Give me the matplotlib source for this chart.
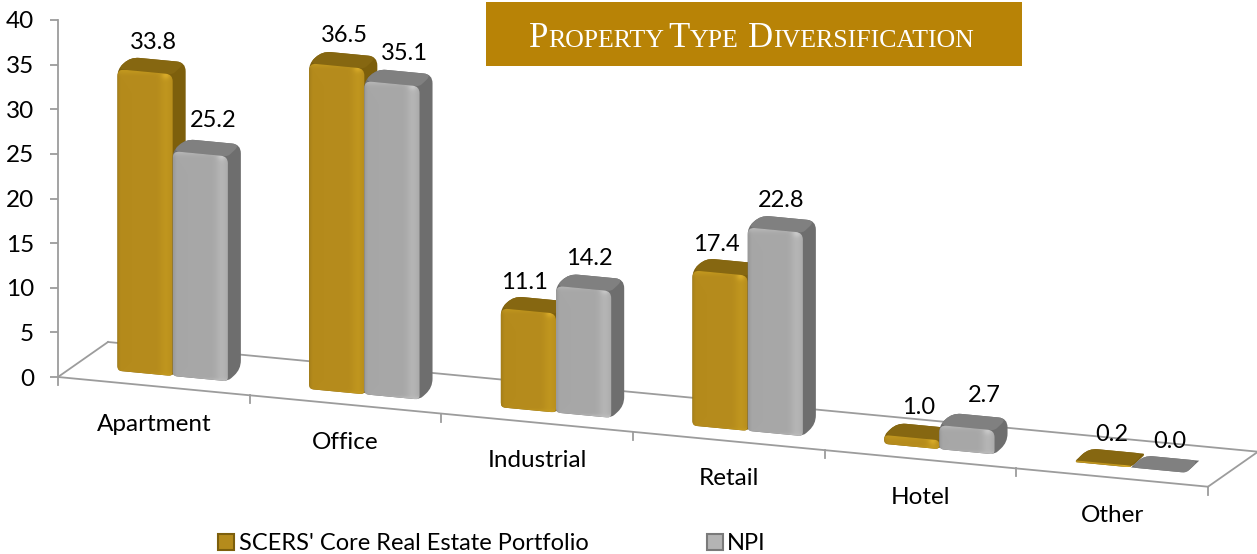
import matplotlib
matplotlib.use("Agg")
import matplotlib.pyplot as plt
import numpy as np
from matplotlib.patches import Patch, PathPatch, Rectangle
from matplotlib.path import Path
from matplotlib.transforms import Affine2D, IdentityTransform

categories = ["Apartment", "Office", "Industrial", "Retail", "Hotel", "Other"]
scers = [33.8, 36.5, 11.1, 17.4, 1.0, 0.2]
npi = [25.2, 35.1, 14.2, 22.8, 2.7, 0.0]
y_ticks = [0, 5, 10, 15, 20, 25, 30, 35, 40]
series_names = ["SCERS' Core Real Estate Portfolio", "NPI"]

# hand placed labels in the original, pixels from the middle of the bar top
scers_nudge = [(8, 29), (8, 30), (-4, 28), (-4, 28), (7, 30), (8, 29)]
npi_nudge = [(13, 33), (12, 30), (6, 30), (6, 30), (17, 32), (11, 29)]

W, H = 1257, 554
X0, Y0 = 58, 377
SLOPE = 0.0954
FLOOR_DEPTH = (50, 35)
BAR_SHIFT = (15, 10.5)  # bars stand this far back on the floor
BAR_DEPTH = (13, 12)
BAR_START = 0.232
BAR_WIDTH = 0.288
LINE = "#9c9c9c"
LINE_W = 1.3

gold = dict(base=(181, 139, 28), side="#7d5f0c", top="#866711", hi=(222, 176, 44), low=(198, 156, 32))
grey = dict(base=(167, 167, 167), side="#6e6e6e", top="#808080", hi=(206, 206, 206), low=(190, 190, 190))

plt.rcParams["font.family"] = ["Lato", "DejaVu Sans"]
fig = plt.figure(figsize=(W / 100, H / 100), dpi=100)
ax = fig.add_axes([X0 / W, (H - Y0) / H, 1150 / W, 357 / H])
ax.set_xlim(0, 6)
ax.set_ylim(0, 40)
ax.patch.set_visible(False)
for name in ["top", "right", "bottom"]:
    ax.spines[name].set_visible(False)
ax.spines["left"].set_color(LINE)
ax.spines["left"].set_linewidth(LINE_W)
ax.set_xticks([])
ax.set_yticks(y_ticks)
ax.tick_params(axis="y", length=5.8, width=LINE_W, color=LINE, pad=11.5, labelsize=17.5)

# the floor of the chart falls to the right
shear = Affine2D.from_values(1, -SLOPE, 0, 1, 0, SLOPE * X0)
skew = ax.transData + shear
identity = IdentityTransform()


def rounded(points, radii):
    """Closed path through the points with the corners cut off by curves."""
    pts = np.asarray(points, dtype=float)
    n = len(pts)
    verts, codes = [], []
    for k in range(n):
        p, a, b = pts[k], pts[k - 1], pts[(k + 1) % n]
        la, lb = np.hypot(*(a - p)), np.hypot(*(b - p))
        rr = min(radii[k], la / 2, lb / 2)
        start = p + (a - p) / max(la, 1e-6) * rr
        end = p + (b - p) / max(lb, 1e-6) * rr
        verts.append(start)
        codes.append(Path.MOVETO if k == 0 else Path.LINETO)
        verts += [p, end]
        codes += [Path.CURVE3, Path.CURVE3]
    verts.append(verts[0])
    codes.append(Path.CLOSEPOLY)
    return Path(verts, codes)


def front_shading(w, h, style):
    """Bevel shading of the front of a bar."""
    w, h = max(int(w), 2), max(int(h), 2)
    base = np.array(style["base"], dtype=float)
    hi = np.array(style["hi"], dtype=float)
    low = np.array(style["low"], dtype=float)
    xx, yy = np.meshgrid(np.arange(w) + 0.5, np.arange(h) + 0.5)
    img = np.ones((h, w, 3)) * base
    band = np.exp(-((xx - (w - 7)) / 6.0) ** 2)[..., None]
    img = img + band * (low - base) * 0.6
    left = np.exp(-(xx / 2.5) ** 2)[..., None]
    img = img * (1 - 0.08 * left)
    top = np.exp(-(yy / 4.0) ** 2)[..., None]
    img = img + top * (low - img) * 0.7
    bottom = np.exp(-((h - yy) / 2.5) ** 2)[..., None]
    img = img + bottom * (low - img) * 0.8
    spot = np.exp(-((xx - (w - 7)) / 4.0) ** 2 - ((yy - 5) / 4.0) ** 2)[..., None]
    img = img + spot * (hi - img) * 0.8
    return np.clip(img, 0, 255) / 255.0


def draw_bar(x, value, style):
    corners = np.array([(x, 0), (x + BAR_WIDTH, 0), (x + BAR_WIDTH, value), (x, value)])
    bl, br, tr, tl = skew.transform(corners) + np.array(BAR_SHIFT)
    back = np.array(BAR_DEPTH)
    # whole outline in the side colour, then the top and the front on it
    outline = [bl, br, br + back, tr + back, tl + back, tl]
    ax.add_patch(PathPatch(rounded(outline, [5, 5, 9, 9, 9, 7]), fc=style["side"], ec="none",
                           transform=identity, clip_on=False, zorder=3))
    top = [tl, tr, tr + back, tl + back]
    ax.add_patch(PathPatch(rounded(top, [7, 3, 9, 9]), fc=style["top"], ec="none",
                           transform=identity, clip_on=False, zorder=3))
    if tl[1] - bl[1] <= 0:
        return
    front = rounded([bl, br, tr, tl], [4, 4, 7, 7])
    box = front.get_extents()
    img = ax.imshow(front_shading(box.width, box.height, style), origin="upper", aspect="auto",
                    extent=(box.x0, box.x1, box.y0, box.y1), transform=identity, zorder=3,
                    interpolation="bilinear")
    img.set_clip_box(fig.bbox)
    img.set_clip_path(front, identity)


def floor_px(x):
    return skew.transform([(x, 0)])[0]


# floor outline and category ticks
back = np.array(FLOOR_DEPTH)
a, b = floor_px(0), floor_px(6)
for p, q in [(a, b), (a + back, b + back), (a, a + back), (b, b + back)]:
    ax.plot([p[0], q[0]], [p[1], q[1]], color=LINE, lw=LINE_W, transform=identity, clip_on=False, zorder=1)
for i in range(len(categories) + 1):
    p = floor_px(i)
    ax.plot([p[0], p[0]], [p[1], p[1] - 8], color=LINE, lw=LINE_W, transform=identity, clip_on=False, zorder=1)

for i, cat in enumerate(categories):
    x1 = i + BAR_START
    x2 = x1 + BAR_WIDTH
    draw_bar(x1, scers[i], gold)
    draw_bar(x2, npi[i], grey)
    for x, val, nudge in [(x1, scers[i], scers_nudge[i]), (x2, npi[i], npi_nudge[i])]:
        mid = skew.transform([(x + BAR_WIDTH / 2, val)])[0] + np.array(BAR_SHIFT)
        ax.annotate(f"{val:.1f}", xy=mid, xycoords=identity, xytext=nudge, textcoords="offset pixels",
                    ha="center", va="center", fontsize=17, color="black", zorder=5, annotation_clip=False)
    ax.annotate(cat, xy=(i + 0.5, 0), xycoords=skew, xytext=(0, -38), textcoords="offset pixels",
                ha="center", va="center", fontsize=17.5, color="black", annotation_clip=False)

# title banner, small caps are built from two sizes
ax.add_patch(Rectangle((486, H - 66), 536, 64, fc="#b88306", ec="none", transform=identity, clip_on=False, zorder=4))
title_runs = [("P", 25, 0), ("ROPERTY", 18.6, 0), ("T", 25, 4), ("YPE", 18.6, 0), ("D", 25, 10), ("IVERSIFICATION", 18.6, 0)]
renderer = fig.canvas.get_renderer()
run_x = 529
for s, size, gap in title_runs:
    run_x += gap
    piece = fig.text(run_x / W, (H - 47) / H, s, fontsize=size, family="Liberation Serif", color="white", zorder=6)
    run_x += piece.get_window_extent(renderer).width

handles = [Patch(fc="#b58b1c", ec="#7d5f0c", lw=1.5), Patch(fc="#b4b4b4", ec="#7a7a7a", lw=1.5)]
fig.legend(handles, series_names, loc="lower left", bbox_to_anchor=(218 / W, 0 / H), ncol=2, frameon=False,
           fontsize=17, handlelength=0.68, handleheight=0.66, handletextpad=0.2, columnspacing=5.0,
           borderpad=0, borderaxespad=0)

fig.savefig("out.png", dpi=100)
